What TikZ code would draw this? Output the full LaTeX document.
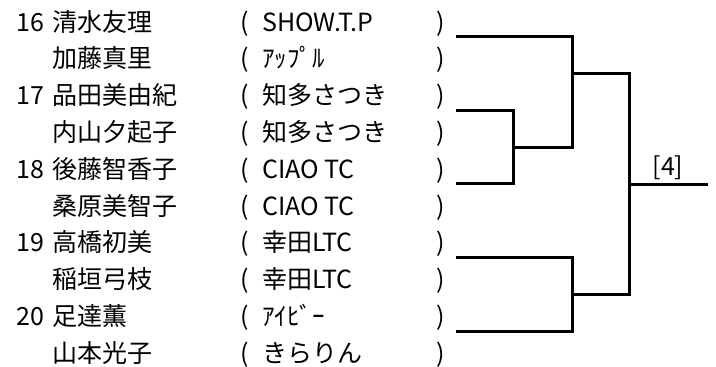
\documentclass[tikz,border=0pt]{standalone}
\usepackage{fontspec}
\setmainfont{Noto Sans CJK JP}
\newcommand\bkrow[3]{%
  \node[txt] (name#1) at (52,{31+36.8*#1}) {#2};
  \node[txt] (lp#1) at (240,{31+36.8*#1}) {(};
  \node[txt] (club#1) at (262,{31+36.8*#1}) {#3};
  \node[txt] (rp#1) at (436,{31+36.8*#1}) {)};}
\begin{document}
\begin{tikzpicture}[x=1pt,y=-1pt,
  txt/.style={anchor=base west,inner sep=0pt,font=\fontsize{25}{30}\selectfont},
  br/.style={line width=3pt,line join=miter}]
\useasboundingbox (0,0) rectangle (716,367);
\node[txt] (num16) at (16.5,31) {16};
\node[txt] (num17) at (16.5,{31+36.8*2}) {17};
\node[txt] (num18) at (16.5,{31+36.8*4}) {18};
\node[txt] (num19) at (16.5,{31+36.8*6}) {19};
\node[txt] (num20) at (16.5,{31+36.8*8}) {20};
\bkrow{0}{清水友理}{SHOW.T.P}
\bkrow{1}{加藤真里}{ｱｯﾌﾟﾙ}
\bkrow{2}{品田美由紀}{知多さつき}
\bkrow{3}{内山夕起子}{知多さつき}
\bkrow{4}{後藤智香子}{CIAO TC}
\bkrow{5}{桑原美智子}{CIAO TC}
\bkrow{6}{高橋初美}{幸田LTC}
\bkrow{7}{稲垣弓枝}{幸田LTC}
\bkrow{8}{足達薫}{ｱｲﾋﾞｰ}
\bkrow{9}{山本光子}{きらりん}
\coordinate (e16) at (456,36);
\coordinate (e17) at (456,110);
\coordinate (e18) at (456,183);
\coordinate (e19) at (456,257);
\coordinate (e20) at (456,331);
\coordinate (j1) at (513,147);
\coordinate (j2) at (572,73);
\coordinate (j3) at (572,294);
\coordinate (j4) at (629,184);
\coordinate (out) at (708,184);
\draw[br] (e17) -| (j1) |- (e18);
\draw[br] (e16) -| (j2) |- (j1);
\draw[br] (e19) -| (j3) |- (e20);
\draw[br] (j2) -| (j4) |- (j3);
\draw[br] (j4) -- (out);
\node[txt,anchor=base] (res) at (668,175) {[4]};
\end{tikzpicture}
\end{document}
